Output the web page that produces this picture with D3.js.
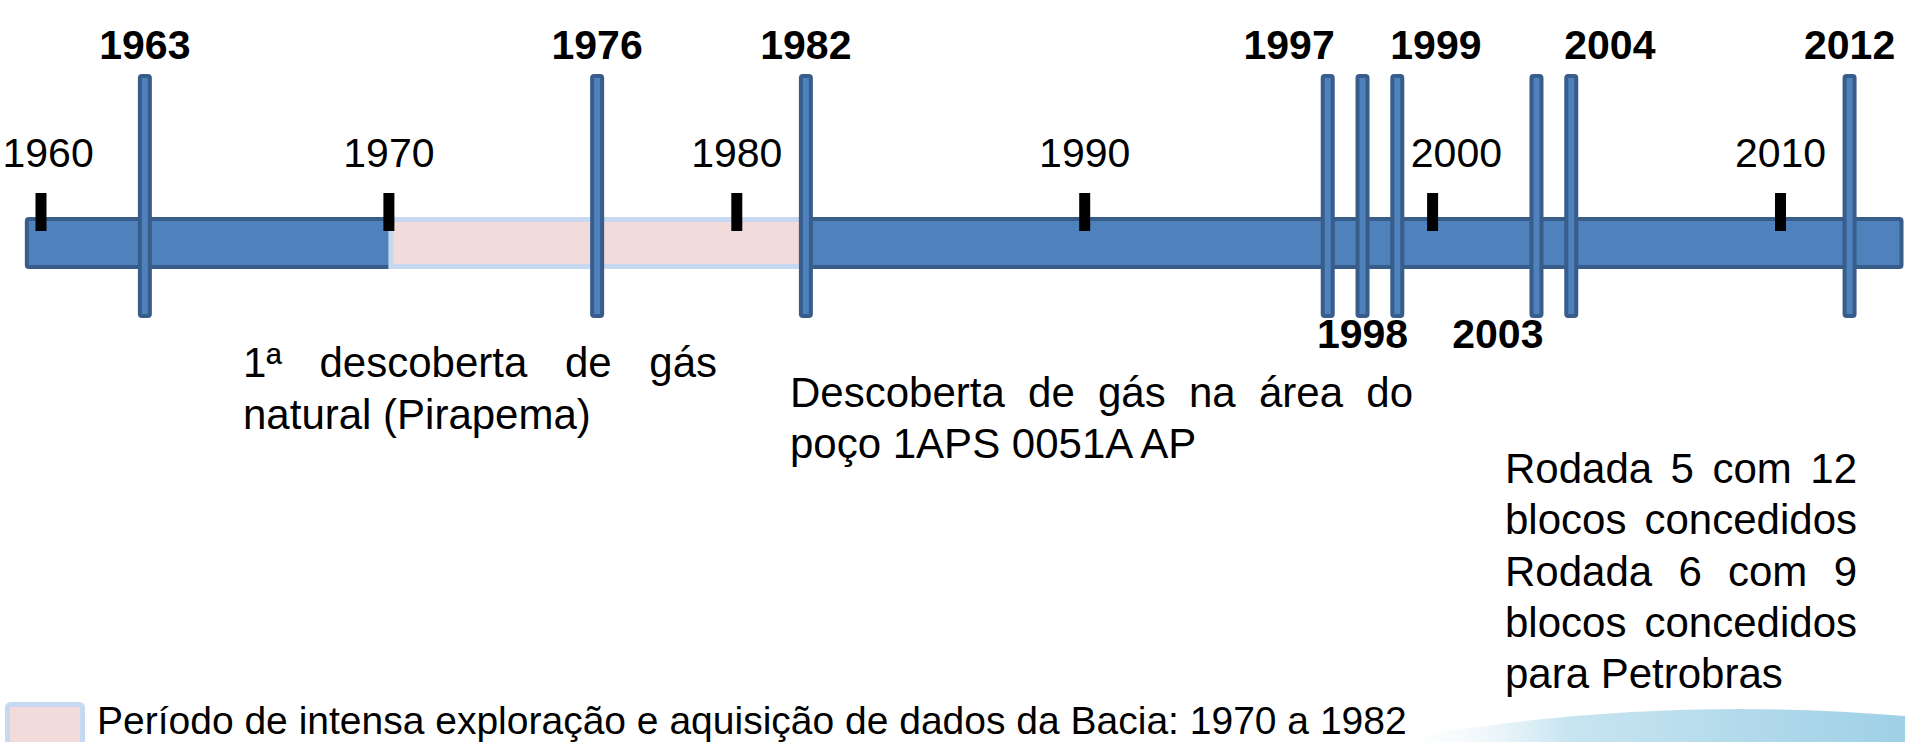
<!DOCTYPE html>
<html lang="pt-BR">
<head>
    <meta charset="UTF-8">
    <title>Linha do tempo - Bacia</title>
    <script src="https://d3js.org/d3.v7.min.js"></script>
    <style>
        body {
            margin: 0;
            padding: 0;
            background: #fff;
            font-family: "Liberation Sans", Arial, sans-serif;
        }
        #chart { width: 1905px; height: 742px; overflow: hidden; }
        .bar-main { fill: #4f81bd; stroke: #385d8a; stroke-width: 4; }
        .period { fill: #f2dcdb; stroke: #c6d9f1; stroke-width: 5; }
        .event-bar { fill: #4f81bd; stroke: #385d8a; stroke-width: 4; }
        .event-label { font-weight: bold; font-size: 41px; fill: #000; }
        .note text { font-size: 42px; fill: #000; }
        .legend-text { font-size: 39px; fill: #000; }
    </style>
</head>
<body>
    <div id="chart"></div>
    <script>
        // dados
        const tickYears = [1960, 1970, 1980, 1990, 2000, 2010];
        const eventYears = [1963, 1976, 1982, 1997, 1998, 1999, 2003, 2004, 2012];
        const eventSide = ["up", "up", "up", "up", "down", "up", "down", "up", "up"];
        const periodYears = [1970, 1982];
        const timelineSpan = [1959.55, 2013.55];
        const periodText = "Período de intensa exploração e aquisição de dados da Bacia: 1970 a 1982";
        const note1976 = ["1ª descoberta de gás", "natural (Pirapema)"];
        const note1982 = ["Descoberta de gás na área do", "poço 1APS 0051A AP"];
        const note2003 = ["Rodada 5 com 12", "blocos concedidos", "Rodada 6 com 9", "blocos concedidos", "para Petrobras"];

        const W = 1905, H = 742;
        const FONT = '"Liberation Sans", Arial, sans-serif';
        const barY = 219, barH = 48;        // faixa principal
        const evTop = 74, evBottom = 318;   // barras verticais dos eventos
        const evW = 14;

        const svg = d3.select("#chart").append("svg")
            .attr("width", W)
            .attr("height", H)
            .attr("font-family", FONT);

        const x = d3.scaleLinear().domain([1960, 2010]).range([40.5, 1780]);

        // fundo decorativo (onda azul no canto)
        const grad = svg.append("defs").append("linearGradient")
            .attr("id", "wave").attr("x1", "0%").attr("x2", "100%").attr("y1", "0%").attr("y2", "0%");
        grad.append("stop").attr("offset", "0%").attr("stop-color", "#ffffff").attr("stop-opacity", 0);
        grad.append("stop").attr("offset", "35%").attr("stop-color", "#c8e5f1");
        grad.append("stop").attr("offset", "100%").attr("stop-color", "#9fd0e6");
        svg.append("path")
            .attr("d", "M1385,742 Q1640,694 1905,716 L1905,742 Z")
            .attr("fill", "url(#wave)");

        // faixa principal
        svg.append("rect")
            .attr("class", "bar-main")
            .attr("x", x(timelineSpan[0]) + 2)
            .attr("y", barY)
            .attr("width", x(timelineSpan[1]) - x(timelineSpan[0]) - 4)
            .attr("height", barH)
            .attr("rx", 2);

        // periodo de exploracao
        svg.append("rect")
            .attr("class", "period")
            .attr("x", x(periodYears[0]) + 2.5)
            .attr("y", barY + 0.5)
            .attr("width", x(periodYears[1]) - x(periodYears[0]) - 5)
            .attr("height", barH - 1);

        // eixo com marcas pretas
        const axis = svg.append("g")
            .attr("transform", `translate(0,${barY + 12})`)
            .call(d3.axisTop(x)
                .tickValues(tickYears)
                .tickSize(38)
                .tickPadding(26)
                .tickFormat(d3.format("d")));
        axis.attr("font-size", 41).attr("font-family", FONT);
        axis.select(".domain").remove();
        axis.selectAll(".tick line").attr("stroke", "#000").attr("stroke-width", 11);
        axis.selectAll(".tick text").attr("fill", "#000");

        // rotulos do eixo: evitar barras de eventos e a borda
        axis.selectAll(".tick text").each(function(d) {
            const t = d3.select(this);
            const b = this.getBBox();
            const cx = x(d);
            let left = cx + b.x, right = left + b.width;
            const hit = eventYears.find(e => x(e) + evW / 2 > left && x(e) - evW / 2 < right);
            if (hit !== undefined) {
                const shift = x(hit) + evW / 2 + 6 - left;
                t.attr("x", shift);
                left += shift;
            }
            if (left < 2) t.attr("x", 2 - left);
        });

        // barras dos eventos
        svg.selectAll(".event-bar")
            .data(eventYears)
            .join("rect")
            .attr("class", "event-bar")
            .attr("x", d => x(d) - evW / 2 + 2)
            .attr("y", evTop + 2)
            .attr("width", evW - 4)
            .attr("height", evBottom - evTop - 4)
            .attr("rx", 2);

        // rotulos dos eventos (anos consecutivos se afastam do centro do grupo)
        const evLabels = eventYears.map((year, i) => {
            const prev = eventYears[i - 1], next = eventYears[i + 1];
            const first = next - year === 1 && !(year - prev === 1);
            const last = year - prev === 1 && !(next - year === 1);
            let anchor = "middle", ax = x(year);
            if (first) { anchor = "end"; ax = x(year) + evW / 2; }
            if (last) { anchor = "start"; ax = x(year) - evW / 2; }
            return { year, side: eventSide[i], anchor, ax };
        });

        svg.selectAll(".event-label")
            .data(evLabels)
            .join("text")
            .attr("class", "event-label")
            .attr("x", d => d.ax)
            .attr("y", d => d.side === "up" ? evTop - 15 : evBottom + 30)
            .attr("text-anchor", d => d.anchor)
            .text(d => d.year);

        // blocos de texto justificados
        function noteBlock(lines, x0, width, y0, lh) {
            const g = svg.append("g").attr("class", "note");
            lines.forEach((line, i) => {
                const y = y0 + i * lh;
                const isLast = i === lines.length - 1;
                if (isLast) {
                    g.append("text").attr("x", x0).attr("y", y).text(line);
                    return;
                }
                const words = line.split(" ");
                const widths = words.map(w => {
                    const tmp = g.append("text").text(w);
                    const len = tmp.node().getComputedTextLength();
                    tmp.remove();
                    return len;
                });
                const gap = (width - d3.sum(widths)) / (words.length - 1);
                let cx = x0;
                words.forEach((w, j) => {
                    g.append("text").attr("x", cx).attr("y", y).text(w);
                    cx += widths[j] + gap;
                });
            });
        }

        noteBlock(note1976, 243, 474, 377, 51.5);
        noteBlock(note1982, 790, 623, 407, 51);
        noteBlock(note2003, 1505, 352, 483, 51.3);

        // legenda
        svg.append("rect")
            .attr("class", "period")
            .attr("x", 7.5)
            .attr("y", 704.5)
            .attr("width", 75)
            .attr("height", 60)
            .attr("rx", 3);
        svg.append("text")
            .attr("class", "legend-text")
            .attr("x", 97)
            .attr("y", 734)
            .text(periodText);
    </script>
</body>
</html>
